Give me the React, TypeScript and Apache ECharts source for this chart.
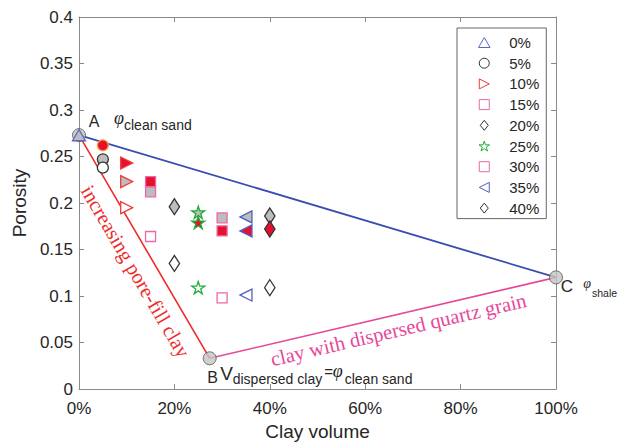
import React, { useEffect, useRef } from 'react';
import * as echarts from 'echarts';

// ---- data ----
const seriesNames = ['0%', '5%', '10%', '15%', '20%', '25%', '30%', '35%', '40%'];
const clayVolume = [0, 5, 10, 15, 20, 25, 30, 35, 40];
const grayPorosity = [0.273, 0.247, 0.223, 0.212, 0.196, 0.190, 0.184, 0.185, 0.186];
const redPorosity = [null, 0.262, 0.243, 0.223, null, 0.179, 0.170, 0.170, 0.172];
const openPorosity = [null, 0.238, 0.195, 0.164, 0.135, 0.109, 0.098, 0.101, 0.109];

// model end points A (clean sand), B (dispersed clay), C (shale)
const endPointNames = ['A', 'B', 'C'];
const endPointClay = [0, 27.4, 100];
const endPointPorosity = [0.273, 0.033, 0.12];

// ---- styles ----
const SANS = '"Liberation Sans", Arial, Helvetica, sans-serif';
const SERIF = '"Liberation Serif", "Times New Roman", serif';
const TXT = '#262626';
const AXIS = '#8a8a8a';
const GRAY_FILL = '#bdbdbd';
const RED_FILL = '#e8112d';
const BLUE_LINE = '#3a4cb0';
const RED_LINE = '#ee2b2b';
const PINK_LINE = '#e6489a';

const TRI_UP = 'path://M5,0 L10,8.66 L0,8.66 Z';
const TRI_RIGHT = 'path://M0,0 L10,5 L0,10 Z';
const TRI_LEFT = 'path://M10,0 L0,5 L10,10 Z';
const CIRCLE = 'path://M10,5 A5,5 0 1,1 0,5 A5,5 0 1,1 10,5 Z';
const SQUARE = 'path://M0,0 L10,0 L10,10 L0,10 Z';
const DIAMOND = 'path://M6,0 L12,7.5 L6,15 L0,7.5 Z';
const STAR =
  'path://M10,0 L12.245,6.91 L19.511,6.91 L13.633,11.18 L15.878,18.09 L10,13.82 L4.122,18.09 L6.367,11.18 L0.489,6.91 L7.755,6.91 Z';

const symbols = [TRI_UP, CIRCLE, TRI_RIGHT, SQUARE, DIAMOND, STAR, SQUARE, TRI_LEFT, DIAMOND];
const symbolSizes: any[] = [13, 11, 12, 10, [13, 16], 13, 10, 12, [13, 16]];
const edgeColors = ['#5a67c4', '#333333', '#f03c3c', '#e86aa6', '#333333', '#1fae3a', '#e86aa6', '#4f5fc0', '#333333'];
const redEdgeColors = ['#5a67c4', '#f5a442', '#f03c3c', '#e86aa6', '#333333', '#1fae3a', '#e86aa6', '#4f5fc0', '#333333'];

export default function App() {
  const ref = useRef<HTMLDivElement>(null);

  useEffect(() => {
    const chart = echarts.init(ref.current!, null, { renderer: 'svg' });

    const pointSeries = seriesNames.map((name, i) => {
      const data: any[] = [];
      if (grayPorosity[i] != null)
        data.push({ value: [clayVolume[i], grayPorosity[i]], itemStyle: { color: GRAY_FILL, borderColor: edgeColors[i] } });
      if (redPorosity[i] != null)
        data.push({ value: [clayVolume[i], redPorosity[i]], itemStyle: { color: RED_FILL, borderColor: redEdgeColors[i] } });
      if (openPorosity[i] != null)
        data.push({ value: [clayVolume[i], openPorosity[i]], itemStyle: { color: '#ffffff', borderColor: edgeColors[i] } });
      return {
        type: 'scatter',
        name,
        symbol: symbols[i],
        symbolSize: symbolSizes[i],
        symbolKeepAspect: true,
        itemStyle: { color: '#ffffff', borderColor: edgeColors[i], borderWidth: 1.3, opacity: 1 },
        emphasis: { disabled: true },
        z: 6,
        data,
      };
    });

    const ep = (k: number) => [endPointClay[k], endPointPorosity[k]];
    const lineSeries = (a: number, b: number, color: string, width: number) => ({
      type: 'line',
      data: [ep(a), ep(b)],
      symbol: 'none',
      silent: true,
      lineStyle: { color, width },
      z: 3,
    });

    const axisCommon = {
      axisLine: { show: true, onZero: false, lineStyle: { color: AXIS, width: 1 } },
      axisTick: { show: true, inside: true, length: 5, lineStyle: { color: AXIS } },
      splitLine: { show: false },
    };

    chart.setOption({
      animation: false,
      backgroundColor: '#ffffff',
      grid: { left: 79, right: 68, top: 17, bottom: 56 },
      xAxis: [
        {
          type: 'value',
          min: 0,
          max: 100,
          interval: 20,
          ...axisCommon,
          axisLabel: { formatter: '{value}%', color: TXT, fontSize: 17, fontFamily: SANS, margin: 11 },
          name: 'Clay volume',
          nameLocation: 'middle',
          nameGap: 33,
          nameTextStyle: { color: TXT, fontSize: 19, fontFamily: SANS },
        },
        {
          type: 'value',
          position: 'top',
          min: 0,
          max: 100,
          interval: 20,
          ...axisCommon,
          axisLabel: { show: false },
        },
      ],
      yAxis: [
        {
          type: 'value',
          min: 0,
          max: 0.4,
          interval: 0.05,
          ...axisCommon,
          axisLabel: { color: TXT, fontSize: 17, fontFamily: SANS, margin: 6 },
          name: 'Porosity',
          nameLocation: 'middle',
          nameGap: 45,
          nameTextStyle: { color: TXT, fontSize: 19, fontFamily: SANS },
        },
        {
          type: 'value',
          position: 'right',
          min: 0,
          max: 0.4,
          interval: 0.05,
          ...axisCommon,
          axisLabel: { show: false },
        },
      ],
      legend: {
        data: seriesNames,
        orient: 'vertical',
        left: 457,
        top: 28,
        itemWidth: 40,
        itemHeight: 10,
        itemGap: 5.7,
        padding: [7, 7, 3, 21],
        borderColor: '#666666',
        borderWidth: 1,
        backgroundColor: '#ffffff',
        selectedMode: false,
        itemStyle: { borderWidth: 1 },
        textStyle: { color: TXT, fontSize: 15, fontFamily: SANS },
      },
      series: [
        lineSeries(0, 2, BLUE_LINE, 1.8),
        lineSeries(0, 1, RED_LINE, 1.6),
        lineSeries(1, 2, PINK_LINE, 1.6),
        {
          type: 'scatter',
          name: 'end points',
          symbol: 'circle',
          symbolSize: 13,
          itemStyle: { color: '#c4c4c4', borderColor: '#555555', borderWidth: 1 },
          silent: true,
          z: 5,
          data: endPointNames.map((_, k) => ep(k)),
        },
        ...pointSeries,
      ],
    });

    const toPx = (k: number) => chart.convertToPixel({ seriesIndex: 0 }, ep(k)) as number[];
    const A = toPx(0);
    const B = toPx(1);
    const C = toPx(2);

    const txt = (text: string, x: number, y: number, size: number, opts: any = {}) => ({
      type: 'text',
      x,
      y,
      rotation: opts.rotation || 0,
      z: 20,
      style: {
        text,
        fill: opts.fill || TXT,
        font: `${opts.italic ? 'italic ' : ''}${size}px ${opts.family || SANS}`,
        align: opts.align || 'center',
        verticalAlign: 'middle',
      },
    });

    const along = (P: number[], Q: number[], t: number, s: number) => {
      const dx = Q[0] - P[0];
      const dy = Q[1] - P[1];
      const len = Math.hypot(dx, dy);
      const d = [dx / len, dy / len];
      const n = [-d[1], d[0]];
      const m = [(P[0] + Q[0]) / 2, (P[1] + Q[1]) / 2];
      return { x: m[0] + t * d[0] + s * n[0], y: m[1] + t * d[1] + s * n[1], rot: -Math.atan2(dy, dx) };
    };

    const ab = along(A, B, 17, 20);
    const bc = along(B, C, 12.5, 15);

    chart.setOption({
      graphic: [
        // A label
        txt('A', A[0] + 15, A[1] - 14, 16),
        txt('φ', A[0] + 40, A[1] - 17, 18, { italic: true, family: SERIF }),
        txt('clean sand', A[0] + 45, A[1] - 10, 14, { align: 'left' }),
        // B label
        txt('B', B[0] + 3, B[1] + 19, 16),
        txt('V', B[0] + 17, B[1] + 15, 19),
        txt('dispersed clay', B[0] + 23, B[1] + 21, 14, { align: 'left' }),
        txt('=', B[0] + 119, B[1] + 13, 15),
        txt('φ', B[0] + 128, B[1] + 13, 18, { italic: true, family: SERIF }),
        txt('clean sand', B[0] + 135, B[1] + 21, 14, { align: 'left' }),
        // C label
        txt('C', C[0] + 11, C[1] + 9, 17),
        txt('φ', C[0] + 31, C[1] + 6, 14, { italic: true, family: SERIF }),
        txt('shale', C[0] + 36, C[1] + 16, 10.5, { align: 'left' }),
        // line annotations
        txt('increasing pore-fill clay', ab.x, ab.y, 20.5, { family: SERIF, fill: RED_LINE, rotation: ab.rot }),
        txt('clay with dispersed quartz grain', bc.x, bc.y, 20.5, { family: SERIF, fill: PINK_LINE, rotation: bc.rot }),
      ],
    });

    return () => chart.dispose();
  }, []);

  return <div ref={ref} style={{ position: 'fixed', left: 0, top: 0, width: 624, height: 446 }} />;
}
